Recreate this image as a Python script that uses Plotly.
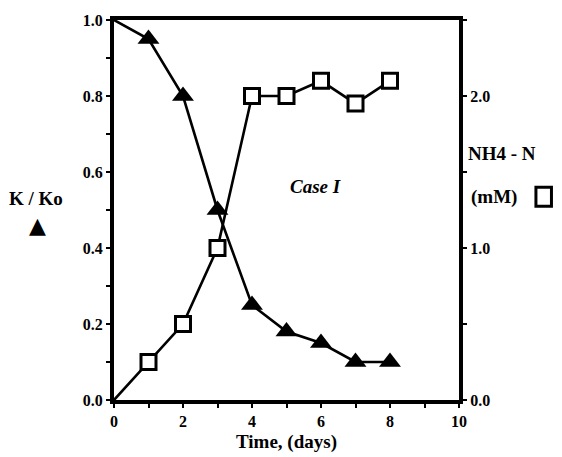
import plotly.graph_objects as go

time_days = [0, 1, 2, 3, 4, 5, 6, 7, 8]
k_ratio = [1.0, 0.95, 0.80, 0.50, 0.25, 0.18, 0.15, 0.10, 0.10]
nh4_mM = [0.0, 0.25, 0.5, 1.0, 2.0, 2.0, 2.1, 1.95, 2.1]
x_ticks = [0, 2, 4, 6, 8, 10]
left_ticks = [0.0, 0.2, 0.4, 0.6, 0.8, 1.0]
right_ticks = [0.0, 1.0, 2.0]

FONT = "Liberation Serif"
fig = go.Figure()

fig.add_trace(go.Scatter(x=time_days, y=k_ratio, mode="lines",
                         line=dict(color="black", width=2.6), showlegend=False))
fig.add_trace(go.Scatter(x=time_days[1:], y=k_ratio[1:], mode="markers",
                         marker=dict(symbol="triangle-up", size=19, color="black"),
                         showlegend=False))
fig.add_trace(go.Scatter(x=time_days, y=nh4_mM, mode="lines", yaxis="y2",
                         line=dict(color="black", width=2.6), showlegend=False))
fig.add_trace(go.Scatter(x=time_days[1:], y=nh4_mM[1:], mode="markers", yaxis="y2",
                         marker=dict(symbol="square", size=15, color="white",
                                     line=dict(color="black", width=3)),
                         showlegend=False))

axis_common = dict(showgrid=False, zeroline=False, showline=True, linecolor="black",
                   linewidth=4, ticks="outside", tickwidth=2, ticklen=4, tickcolor="black",
                   tickfont=dict(family=FONT, size=16, color="black", weight="bold"))

fig.update_layout(
    width=562, height=457,
    margin=dict(l=114, r=103, t=14, b=57),
    paper_bgcolor="white", plot_bgcolor="white",
    xaxis=dict(range=[0, 10], tickvals=x_ticks, mirror=True,
               minor=dict(dtick=1, ticks="outside", ticklen=4, tickwidth=2, tickcolor="black"),
               **axis_common),
    yaxis=dict(range=[0, 1.0], tickvals=left_ticks, tickformat=".1f",
               minor=dict(dtick=0.1, ticks="outside", ticklen=4, tickwidth=2, tickcolor="black"),
               **axis_common),
    yaxis2=dict(range=[0, 2.5], tickvals=right_ticks, tickformat=".1f",
                overlaying="y", side="right",
                minor=dict(dtick=0.5, ticks="outside", ticklen=4, tickwidth=2, tickcolor="black"),
                **axis_common),
    annotations=[
        dict(text="<b>Time, (days)</b>", xref="paper", yref="paper", x=0.5, y=-0.075,
             showarrow=False, yanchor="top", font=dict(family=FONT, size=19, color="black")),
        dict(text="<b>K / Ko</b>", xref="paper", x=-0.225, yref="paper", y=0.53,
             showarrow=False, xanchor="center", font=dict(family=FONT, size=19, color="black")),
        dict(text="▲", xref="paper", x=-0.223, yref="paper", y=0.46,
             showarrow=False, xanchor="center", font=dict(family="DejaVu Sans", size=22, color="black")),
        dict(text="<b>NH4 - N</b>", xref="paper", x=1.02, yref="paper", y=0.65,
             showarrow=False, xanchor="left", font=dict(family=FONT, size=19, color="black")),
        dict(text="<b>(mM)</b>", xref="paper", x=1.03, yref="paper", y=0.534,
             showarrow=False, xanchor="left", font=dict(family=FONT, size=19, color="black")),
        dict(text="<i><b>Case I</b></i>", xref="x", x=5.85, yref="paper", y=0.562,
             showarrow=False, xanchor="center", font=dict(family=FONT, size=19, color="black")),
    ],
    shapes=[
        dict(type="rect", xref="paper", yref="paper", x0=1.223, x1=1.268, y0=0.51, y1=0.56,
             line=dict(color="black", width=3), fillcolor="white"),
    ],
)

fig.write_html("out.html", config={"displayModeBar": False},
               post_script="document.body.style.margin='0';")
